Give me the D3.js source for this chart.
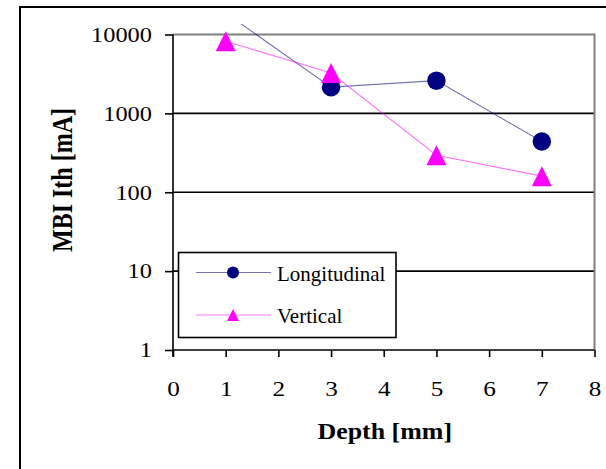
<!DOCTYPE html>
<html>
<head>
<meta charset="utf-8">
<script src="https://cdn.jsdelivr.net/npm/d3@7"></script>
<style>
  html, body { margin: 0; padding: 0; background: #fff; }
  svg { display: block; }
</style>
</head>
<body>
<svg id="chart" width="606" height="469"></svg>
<script>
// Depth positions (mm)
const depths = [1, 3, 5, 7];
// MBI threshold current (mA) per orientation
const longitudinal = [18700, 2150, 2600, 440];
const vertical = [8200, 3250, 295, 160];
// Axis ticks
const xTicks = [0, 1, 2, 3, 4, 5, 6, 7, 8];
const yTicks = [1, 10, 100, 1000, 10000];
const yTickLabels = ["1", "10", "100", "1000", "10000"];

const series = [
  { name: "Longitudinal", values: longitudinal, color: "#000080", shape: "circle" },
  { name: "Vertical", values: vertical, color: "#FF00FF", shape: "triangle" }
];

const SERIF = "font-family:'Liberation Serif','Times New Roman',serif";

const svg = d3.select("#chart");
const plot = { left: 173, right: 594.5, top: 34.5, bottom: 350 };

const x = d3.scaleLinear().domain([0, 8]).range([plot.left, plot.right]);
const y = d3.scaleLog().domain([1, 10000]).range([plot.bottom, plot.top]);

// Outer chart frame
svg.append("rect")
  .attr("x", 20).attr("y", 7).attr("width", 640).attr("height", 520)
  .attr("fill", "#fff").attr("stroke", "#000").attr("stroke-width", 2);

// Horizontal gridlines
svg.append("g")
  .selectAll("line")
  .data(yTicks.filter(v => v > 1 && v < 10000))
  .join("line")
  .attr("x1", plot.left).attr("x2", plot.right)
  .attr("y1", d => y(d)).attr("y2", d => y(d))
  .attr("stroke", "#000").attr("stroke-width", 1.6);

// Plot area border (top and right)
svg.append("path")
  .attr("d", `M${plot.left},${plot.top}H${plot.right}V${plot.bottom}`)
  .attr("fill", "none").attr("stroke", "#808080").attr("stroke-width", 2);

// Y axis
const yAxis = svg.append("g")
  .attr("transform", `translate(${plot.left},0)`)
  .call(d3.axisLeft(y).tickValues(yTicks).tickFormat((d, i) => yTickLabels[i]).tickSize(8).tickPadding(13));
yAxis.select(".domain").attr("stroke", "#000").attr("stroke-width", 1.6)
  .attr("d", `M0,${plot.top}V${plot.bottom + 7}`);
yAxis.selectAll(".tick line").attr("stroke", "#000").attr("stroke-width", 1.6);
yAxis.selectAll(".tick text")
  .attr("style", SERIF)
  .attr("font-size", 20)
  .attr("fill", "#000")
  .attr("dy", "0.34em")
  .each(function () {
    const t = d3.select(this);
    const xPos = +t.attr("x");
    t.attr("x", null).attr("transform", `translate(${xPos},0) scale(1.22,1)`);
  });

// X axis
const xAxis = svg.append("g")
  .attr("transform", `translate(0,${plot.bottom})`)
  .call(d3.axisBottom(x).tickValues(xTicks).tickFormat(d3.format("d")).tickSize(7).tickPadding(0));
xAxis.select(".domain").attr("stroke", "#000").attr("stroke-width", 1.6)
  .attr("d", `M${plot.left},0H${plot.right}`);
xAxis.selectAll(".tick line").attr("stroke", "#000").attr("stroke-width", 1.6);
xAxis.selectAll(".tick text")
  .attr("style", SERIF)
  .attr("font-size", 21)
  .attr("fill", "#000")
  .attr("y", null).attr("dy", null)
  .attr("transform", "translate(0,45.5) scale(1.2,1)");

// Axis titles
svg.append("text")
  .attr("style", SERIF)
  .attr("transform", `translate(${(plot.left + plot.right) / 2 + 1},439) scale(1.08,1)`)
  .attr("text-anchor", "middle")
  .attr("font-size", 24).attr("font-weight", "bold")
  .text("Depth [mm]");

svg.append("text")
  .attr("style", SERIF)
  .attr("transform", "translate(72,180) rotate(-90) scale(1,1.2)")
  .attr("text-anchor", "middle")
  .attr("font-size", 24).attr("font-weight", "bold")
  .text("MBI Ith [mA]");

// Series lines, clipped just above the plot area
svg.append("clipPath").attr("id", "plotClip")
  .append("rect")
  .attr("x", plot.left).attr("y", 24)
  .attr("width", plot.right - plot.left).attr("height", plot.bottom - 24);

const line = d3.line().x(d => x(d.x)).y(d => y(d.v));
const lines = svg.append("g").attr("clip-path", "url(#plotClip)");
series.forEach(s => {
  const pts = depths.map((d, i) => ({ x: d, v: s.values[i] }));
  lines.append("path")
    .datum(pts)
    .attr("d", line)
    .attr("fill", "none")
    .attr("stroke", s.color)
    .attr("stroke-opacity", 0.55)
    .attr("stroke-width", 1.1);
});

// Markers (only for points inside the value range)
function drawMarker(g, s, cx, cy, size) {
  if (s.shape === "circle") {
    g.append("circle").attr("cx", cx).attr("cy", cy).attr("r", size / 2).attr("fill", s.color);
  } else {
    const h = size, w = size;
    g.append("path")
      .attr("d", `M${cx},${cy - h / 2}L${cx + w / 2},${cy + h / 2}L${cx - w / 2},${cy + h / 2}Z`)
      .attr("fill", s.color);
  }
}
const markers = svg.append("g");
series.forEach(s => {
  depths.forEach((d, i) => {
    const v = s.values[i];
    if (v > 10000 || v < 1) return;
    drawMarker(markers, s, x(d), y(v), s.shape === "circle" ? 18.5 : 20);
  });
});

// Legend
const legend = svg.append("g");
legend.append("rect")
  .attr("x", 178.5).attr("y", 252.5).attr("width", 217.5).attr("height", 85)
  .attr("fill", "#fff").attr("stroke", "#000").attr("stroke-width", 1.6);
const rowsY = [272.5, 315];
series.forEach((s, i) => {
  const ry = rowsY[i];
  legend.append("line")
    .attr("x1", 196).attr("x2", 271).attr("y1", ry).attr("y2", ry)
    .attr("stroke", s.color).attr("stroke-opacity", 0.55).attr("stroke-width", 1.1);
  drawMarker(legend, s, 233, ry, 12);
  legend.append("text")
    .attr("style", SERIF)
    .attr("transform", `translate(277,${ry + 8}) scale(1.05,1)`)
    .attr("font-size", 20)
    .attr("fill", "#000")
    .text(s.name);
});
</script>
</body>
</html>
